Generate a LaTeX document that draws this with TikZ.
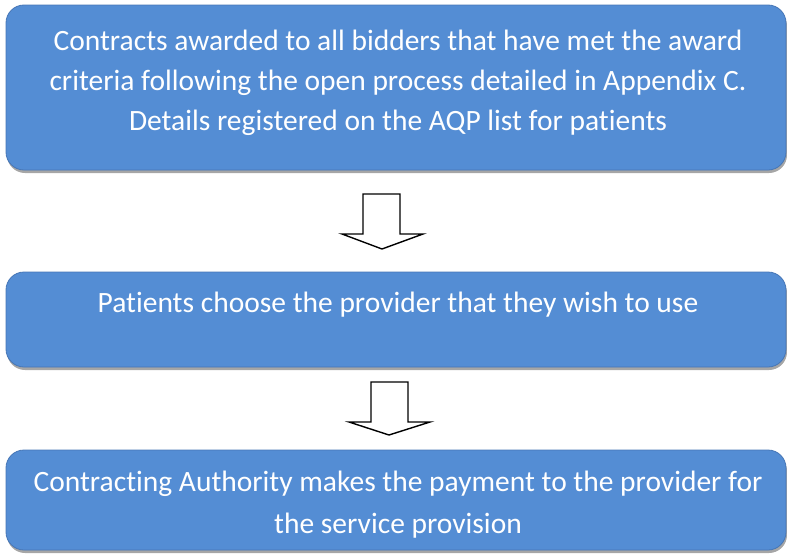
\documentclass[tikz,border=0pt]{standalone}
\usepackage{fontspec}
\setmainfont{Carlito}[Ligatures=NoCommon]
\usetikzlibrary{shadows,calc}
\definecolor{boxfill}{RGB}{84,141,212}
\definecolor{boxline}{RGB}{70,118,182}
\tikzset{
  flowbox/.style={draw=boxline, line width=0.8pt, fill=boxfill, rounded corners=18pt,
    minimum width=780pt, inner sep=0pt,
    drop shadow={shadow xshift=1pt, shadow yshift=-3pt, fill=black!35, opacity=1}},
  flowtext/.style={text=white, align=center, font=\fontsize{29.5}{40}\selectfont, inner sep=0pt},
  blockarrow/.style={draw=black, line width=1.4pt, fill=white, line join=miter}
}
\begin{document}
\begin{tikzpicture}[x=1pt,y=-1pt]
\useasboundingbox (0,0) rectangle (787,554);
% boxes
\node[flowbox, minimum height=165pt] (b1) at (396,87.5) {};
\node[flowbox, minimum height=95pt] (b2) at (396,319.5) {};
\node[flowbox, minimum height=100pt] (b3) at (396,500) {};
% texts
\node[flowtext] (t1) at (398,83) {Contracts awarded to all bidders that have met the award\\criteria following the open process detailed in Appendix C.\\Details registered on the AQP list for patients};
\node[flowtext] (t2) at (398,305) {Patients choose the provider that they wish to use};
\node[flowtext, font=\fontsize{29.5}{42}\selectfont] (t3) at (398,505) {Contracting Authority makes the payment to the provider for\\the service provision};
% block arrows
\coordinate (a1) at (382,194);
\coordinate (a2) at (389,382);
\draw[blockarrow] ($(a1)+(-19,0)$) -- ($(a1)+(18,0)$) -- ($(a1)+(18,40)$) -- ($(a1)+(41,40)$) -- ($(a1)+(0,55)$) -- ($(a1)+(-40,40)$) -- ($(a1)+(-19,40)$) -- cycle;
\draw[blockarrow] ($(a2)+(-18,0)$) -- ($(a2)+(19,0)$) -- ($(a2)+(19,40)$) -- ($(a2)+(41,40)$) -- ($(a2)+(0,53)$) -- ($(a2)+(-40,40)$) -- ($(a2)+(-18,40)$) -- cycle;
\end{tikzpicture}
\end{document}
